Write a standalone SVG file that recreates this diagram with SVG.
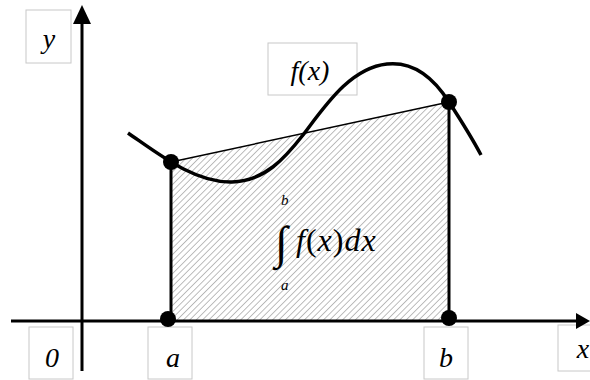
<svg xmlns="http://www.w3.org/2000/svg" width="590" height="380" viewBox="0 0 590 380">
<style>
.box{fill:#fff;stroke:#c8c8c8;stroke-width:1}
.lbl{font-family:"Liberation Serif","Times New Roman",serif;font-style:italic;font-size:28px;fill:#000;text-anchor:middle}
.ser{font-family:"Liberation Serif","Times New Roman",serif;fill:#000}
.axis{stroke:#000;stroke-width:3;fill:none}
.dot{fill:#000}
</style>
<defs>
<pattern id="hatch" patternUnits="userSpaceOnUse" width="4.5" height="4.5" patternTransform="rotate(45)">
<rect width="4.5" height="4.5" fill="#fff"/>
<line x1="0" y1="0" x2="0" y2="4.5" stroke="#a8a8a8" stroke-width="1.5"/>
</pattern>
</defs>
<g id="area">
<polygon points="171,162 449,102 449,320 171,320" fill="url(#hatch)"/>
<line x1="171" y1="162" x2="449" y2="102" stroke="#000" stroke-width="1.5"/>
</g>
<g id="label-y">
<rect class="box" x="26" y="10" width="45" height="53"/>
<text class="lbl" x="49" y="48">y</text>
</g>
<g id="label-fx">
<rect class="box" x="268" y="43" width="89" height="52"/>
<text class="lbl" x="310" y="80">f(x)</text>
</g>
<g id="label-0">
<rect class="box" x="29" y="327" width="44" height="52"/>
<text class="lbl" x="52" y="367">0</text>
</g>
<g id="label-a">
<rect class="box" x="148" y="327" width="44" height="52"/>
<text class="lbl" x="173" y="367">a</text>
</g>
<g id="label-b">
<rect class="box" x="424" y="327" width="44" height="52"/>
<text class="lbl" x="446" y="367">b</text>
</g>
<g id="label-x">
<rect class="box" x="558" y="325" width="40" height="46"/>
<text class="lbl" x="583" y="358">x</text>
</g>
<g id="connectors">
<line class="axis" x1="11" y1="321" x2="578" y2="321"/>
<polygon points="590,321 576,313 576,329" fill="#000"/>
<line class="axis" x1="82" y1="371" x2="82" y2="22"/>
<polygon points="82,5 73,24 91,24" fill="#000"/>
<line class="axis" x1="171" y1="162" x2="171" y2="320"/>
<line class="axis" x1="449" y1="102" x2="449" y2="320"/>
</g>
<g id="curve">
<path d="M128,133 C160,155 195,183 232,182 C265,181 285,158 303,135 C325,106 350,68 387,64 C415,61 435,80 449,102 C462,122 472,138 481,155" fill="none" stroke="#000" stroke-width="3.5"/>
</g>
<g id="points">
<circle class="dot" cx="171" cy="162" r="8"/>
<circle class="dot" cx="449" cy="102" r="8"/>
<circle class="dot" cx="168" cy="319" r="8"/>
<circle class="dot" cx="449" cy="318" r="8"/>
</g>
<g id="integral">
<text class="ser" x="275" y="258" font-size="46">∫</text>
<text class="ser" x="281" y="205" font-style="italic" font-size="15">b</text>
<text class="ser" x="281" y="290" font-style="italic" font-size="15">a</text>
<text class="ser" x="296" y="251" font-style="italic" font-size="32" letter-spacing="1">f<tspan font-style="normal">(</tspan>x<tspan font-style="normal">)</tspan>dx</text>
</g>
</svg>
